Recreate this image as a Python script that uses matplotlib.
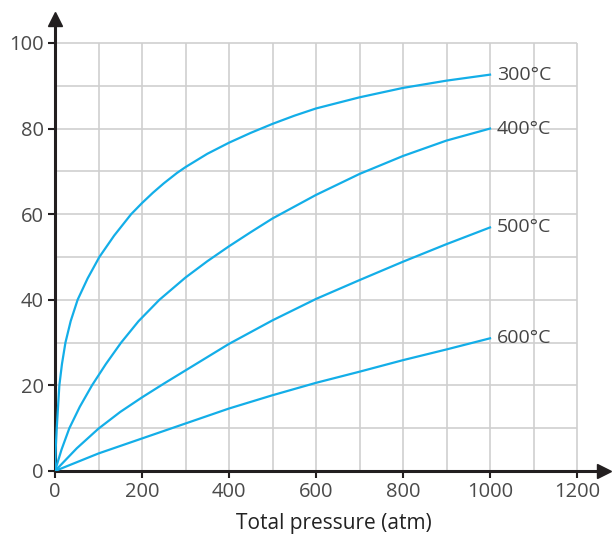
import matplotlib.pyplot as plt

# pressao total (atm) e rendimento (%)
p300 = [0, 2, 4, 7, 10, 16, 24, 36, 52, 75, 102, 136, 175, 200, 225, 250, 280, 300, 350, 400, 450, 500, 550, 600, 700, 800, 900, 1000]
y300 = [0, 6, 10, 15, 20, 25, 30, 35, 40, 45, 50, 55, 60, 62.6, 65, 67.2, 69.6, 71, 74.1, 76.7, 79, 81.1, 83, 84.7, 87.3, 89.5, 91.2, 92.6]

p400 = [0, 15, 33, 57, 85, 117, 152, 192, 240, 300, 350, 400, 450, 500, 600, 700, 800, 900, 1000]
y400 = [0, 5, 10, 15, 20, 25, 30, 35, 40, 45.2, 49, 52.5, 55.8, 59, 64.5, 69.4, 73.6, 77.2, 80]

p500 = [0, 50, 100, 150, 200, 250, 300, 400, 500, 600, 700, 800, 900, 1000]
y500 = [0, 5.3, 9.9, 13.8, 17.2, 20.4, 23.5, 29.7, 35.2, 40.2, 44.6, 48.9, 53, 56.9]

p600 = [0, 100, 200, 300, 400, 500, 600, 700, 800, 900, 1000]
y600 = [0, 4.1, 7.6, 11.1, 14.6, 17.7, 20.6, 23.2, 25.9, 28.4, 31]

rotulos = ['300°C', '400°C', '500°C', '600°C']
series = [(p300, y300), (p400, y400), (p500, y500), (p600, y600)]

plt.rcParams['font.family'] = ['Open Sans', 'DejaVu Sans']

fig = plt.figure(figsize=(6.14, 5.36), dpi=100)
ax = fig.add_axes([55 / 614, 1 - 471 / 536, 549 / 614, 452 / 536])
ax.set_xlim(0, 1262)
ax.set_ylim(0, 105.6)

# grelha so ate 1200 x 100
cinza = '#cfcfcf'
ax.vlines(range(100, 1300, 100), 0, 100, color=cinza, lw=1.2, zorder=1)
ax.hlines(range(10, 110, 10), 0, 1200, color=cinza, lw=1.2, zorder=1)

azul = '#13aee8'
for (px, py), nome in zip(series, rotulos):
    ax.plot(px, py, color=azul, lw=1.6, zorder=3, solid_joinstyle='round')
    ax.text(px[-1] + 16, py[-1], nome, ha='left', va='center',
            fontsize=14, color='#444444', zorder=4)

# eixos com setas
for lado in ['top', 'right']:
    ax.spines[lado].set_visible(False)
for lado in ['left', 'bottom']:
    ax.spines[lado].set_linewidth(2.2)
    ax.spines[lado].set_color('#231f20')
ax.plot(1, 0, '>', color='#231f20', ms=10, transform=ax.transAxes, clip_on=False, zorder=5)
ax.plot(0, 1, '^', color='#231f20', ms=10, transform=ax.transAxes, clip_on=False, zorder=5)

ax.set_xticks(range(0, 1300, 200))
ax.set_yticks(range(0, 120, 20))
ax.tick_params(direction='out', length=5, width=1.5, color='#231f20',
               labelsize=14.5, labelcolor='#4a4a4a', pad=3)

fig.text(334 / 614, 1 - 524 / 536, 'Total pressure (atm)', ha='center', va='center',
         fontsize=15, color='#222222')

fig.savefig('out.png', dpi=100)
